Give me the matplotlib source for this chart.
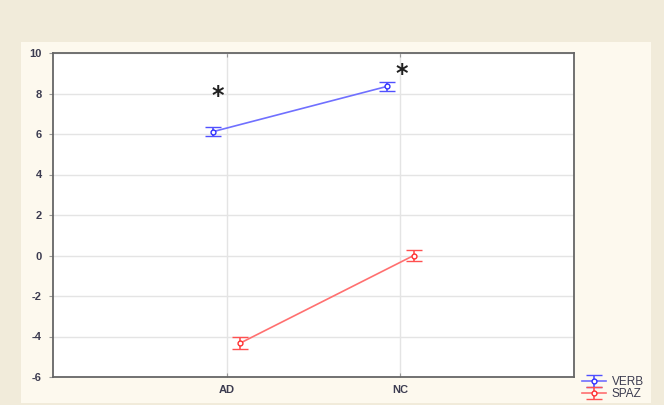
import matplotlib
matplotlib.use("Agg")
import matplotlib.pyplot as plt
from matplotlib.patches import Rectangle

groups = ["AD", "NC"]
verb_mean = [6.12, 8.35]
verb_err = [0.23, 0.24]
spaz_mean = [-4.33, 0.0]
spaz_err = [0.29, 0.29]
star_pos = [(-0.05, 7.9), (1.01, 8.97)]

plt.rcParams["font.family"] = ["Liberation Sans", "DejaVu Sans"]
plt.rcParams["axes.unicode_minus"] = False

fig = plt.figure(figsize=(6.64, 4.05), dpi=100, facecolor="#f1ebda")
fig.patches.append(
    Rectangle((21 / 664, 2 / 405), 630 / 664, 361 / 405,
              transform=fig.transFigure, facecolor="#fdf9ee",
              edgecolor="none", zorder=-1)
)

ax = fig.add_axes([53 / 664, 28 / 405, 521 / 664, 324 / 405])
ax.set_zorder(1)
ax.set_facecolor("white")

x = list(range(len(groups)))
offset = 0.077

verb = ax.errorbar([i - offset for i in x], verb_mean, yerr=verb_err,
                   color="#7070ff", ecolor="#5050ff", elinewidth=1.2,
                   capsize=6, capthick=1.2, linewidth=1.2,
                   marker="o", markersize=3.5, markerfacecolor="white",
                   markeredgecolor="#3030ff", markeredgewidth=1.0,
                   label="VERB", zorder=3)
spaz = ax.errorbar([i + offset for i in x], spaz_mean, yerr=spaz_err,
                   color="#ff7070", ecolor="#ff5050", elinewidth=1.2,
                   capsize=6, capthick=1.2, linewidth=1.2,
                   marker="o", markersize=3.5, markerfacecolor="white",
                   markeredgecolor="#ff3030", markeredgewidth=1.0,
                   label="SPAZ", zorder=3)

# significance marks
for sx, sy in star_pos:
    ax.text(sx, sy, "*", fontsize=17, fontweight="bold", ha="center",
            va="center", color="#202020", family="DejaVu Sans")

ax.set_xlim(-1, 2)
ax.set_ylim(-6, 10)
ax.set_xticks(x)
ax.set_xticklabels(groups)
ax.set_yticks(range(-6, 11, 2))

ax.grid(True, color="#e4e4e4", linewidth=1.0)
ax.set_axisbelow(True)

for spine in ax.spines.values():
    spine.set_color("#666666")
    spine.set_linewidth(1.3)

ax.tick_params(axis="y", direction="out", length=3, color="#999999",
               labelsize=8, labelcolor="#3c3c50", pad=5)
ax.tick_params(axis="x", direction="in", length=3, color="#999999",
               top=True, labelsize=8, labelcolor="#3c3c50", pad=6)
for lbl in ax.get_xticklabels() + ax.get_yticklabels():
    lbl.set_fontweight("bold")

leg = fig.legend(handles=[verb, spaz], loc="lower left",
                 bbox_to_anchor=(574 / 664, -3 / 405), frameon=False,
                 fontsize=8.5, handlelength=2.0, handletextpad=0.5,
                 labelspacing=0.0, borderpad=0.2)
for t in leg.get_texts():
    t.set_color("#3c3c50")

fig.savefig("out.png", dpi=100, facecolor=fig.get_facecolor())
